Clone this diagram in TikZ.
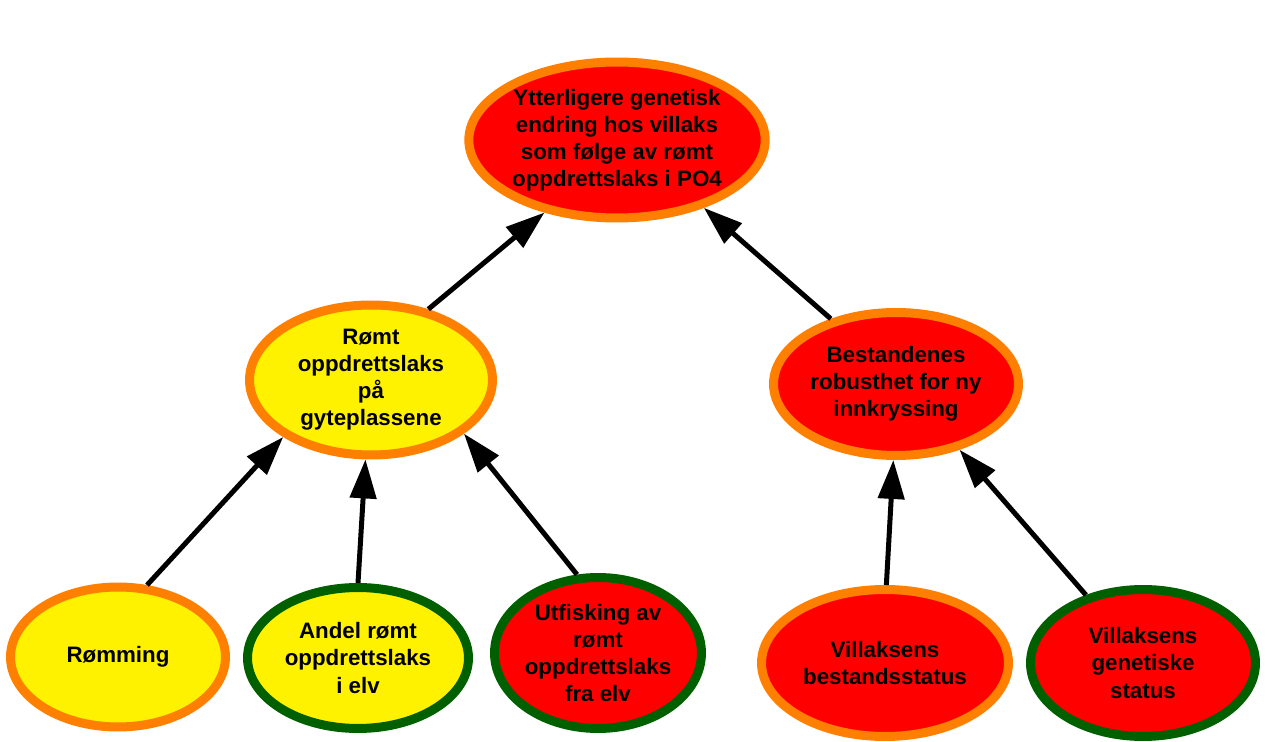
\documentclass[tikz,border=0pt]{standalone}
\usepackage{fontspec}
\setmainfont{Liberation Sans}
\usetikzlibrary{shapes.geometric,arrows.meta}
\definecolor{cred}{HTML}{FF0000}
\definecolor{cyel}{HTML}{FFF200}
\definecolor{cora}{HTML}{FF8000}
\definecolor{cgrn}{HTML}{006000}
\tikzset{
  bub/.style={ellipse, line width=0.18cm, inner sep=0pt, align=center,
    font=\bfseries\fontsize{12.7}{15.4}\selectfont},
  redfill/.style={fill=cred},
  yelfill/.style={fill=cyel},
  orabord/.style={draw=cora},
  grnbord/.style={draw=cgrn},
  conn/.style={line width=0.1cm, -{Triangle[length=0.78cm,width=0.52cm]}}
}
\begin{document}
\begin{tikzpicture}[x=0.02cm,y=-0.02cm]
\useasboundingbox (0,0) rectangle (1265,742);
\node[bub,redfill,orabord,minimum width=5.9cm,minimum height=3.12cm] (top) at (617,140) {Ytterligere genetisk\\endring hos villaks\\som følge av rømt\\oppdrettslaks i PO4};
\node[bub,yelfill,orabord,minimum width=4.86cm,minimum height=3.0cm] (romt) at (371,380) {Rømt\\oppdrettslaks\\på\\gyteplassene};
\node[bub,redfill,orabord,minimum width=4.9cm,minimum height=2.86cm] (best) at (896,384) {Bestandenes\\robusthet for ny\\innkryssing};
\node[bub,yelfill,orabord,minimum width=4.3cm,minimum height=2.8cm] (rom) at (118,657) {Rømming};
\node[bub,yelfill,grnbord,minimum width=4.42cm,minimum height=2.82cm] (andel) at (358,658) {Andel rømt\\oppdrettslaks\\i elv};
\node[bub,redfill,grnbord,minimum width=4.06cm,minimum height=3.02cm] (utf) at (598,653) {Utfisking av\\rømt\\oppdrettslaks\\fra elv};
\node[bub,redfill,orabord,minimum width=4.94cm,minimum height=2.94cm] (vbest) at (885,663) {Villaksens\\bestandsstatus};
\node[bub,redfill,grnbord,minimum width=4.5cm,minimum height=2.94cm] (vgen) at (1143,663) {Villaksens\\genetiske\\status};
\draw[conn] (rom.68) -- (romt.213);
\draw[conn] (andel.90) -- (romt.266);
\draw[conn] (utf.105) -- (romt.330);
\draw[conn] (romt.51) -- (top.225);
\draw[conn] (best.135) -- (top.322);
\draw[conn] (vbest.89) -- (best.268);
\draw[conn] (vgen.130) -- (best.314);
\end{tikzpicture}
\end{document}
